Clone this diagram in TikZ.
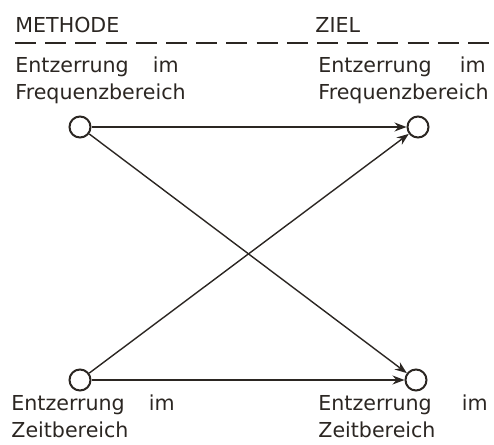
\documentclass[tikz,border=0pt]{standalone}
\usepackage{fontspec}
\setmainfont{DejaVu Sans}
\usetikzlibrary{arrows.meta}
\definecolor{ink}{HTML}{2B2622}

\begin{document}
\begin{tikzpicture}[x=0.5pt,y=-0.5pt,color=ink,
    font=\fontsize{10.3}{13.5}\selectfont,
    txt/.style={anchor=base west,align=left,inner sep=0pt},
    knot/.style={draw,circle,line width=1pt,minimum size=10.5pt,inner sep=0pt},
    flow/.style={-{Stealth[length=6pt,width=4.5pt]},line width=0.7pt}]
  \useasboundingbox (0,0) rectangle (494,445);
  % Kopfzeile
  \node[txt] (methode) at (15,32) {METHODE};
  \node[txt] (ziel) at (315,32) {ZIEL};
  \draw[line width=1.3pt,dash pattern=on 10.5pt off 4.6pt] (15,43) -- (489,43);

  % Beschriftungen (base = letzte Zeile)
  \node[txt] (lblFreqM) at (15,99) {Entzerrung\hspace{12pt}im\\Frequenzbereich};
  \node[txt] (lblFreqZ) at (318,99) {Entzerrung\hspace{14pt}im\\Frequenzbereich};
  \node[txt] (lblZeitM) at (11,437) {Entzerrung\hspace{12pt}im\\Zeitbereich};
  \node[txt] (lblZeitZ) at (318,437) {Entzerrung\hspace{15pt}im\\Zeitbereich};

  % Knoten
  \node[knot] (mFreq) at (80,127) {};
  \node[knot] (zFreq) at (418,127) {};
  \node[knot] (mZeit) at (80,380) {};
  \node[knot] (zZeit) at (416,380) {};

  \draw[flow] (mFreq) -- (zFreq);
  \draw[flow] (mFreq) -- (zZeit);
  \draw[flow] (mZeit) -- (zFreq);
  \draw[flow] (mZeit) -- (zZeit);
\end{tikzpicture}
\end{document}
